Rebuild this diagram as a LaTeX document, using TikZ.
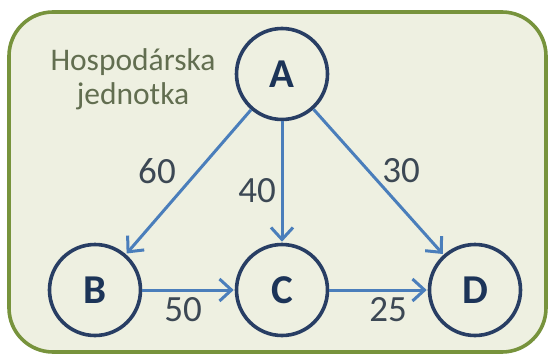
\documentclass[tikz,border=0pt]{standalone}
\usepackage{fontspec}
\setmainfont{Carlito}
\usetikzlibrary{arrows.meta}
\definecolor{frameline}{RGB}{119,147,60}
\definecolor{framefill}{RGB}{238,240,225}
\definecolor{circline}{RGB}{40,62,100}
\definecolor{arrowblue}{RGB}{74,126,187}
\definecolor{lettercol}{RGB}{28,52,88}
\definecolor{numcol}{RGB}{60,72,84}
\definecolor{titlecol}{RGB}{98,110,80}
\tikzset{
  vertex/.style={circle, draw=circline, line width=3.6pt, minimum size=91pt, inner sep=0pt,
    font=\fontsize{41}{41}\selectfont\bfseries, text=lettercol},
  flow/.style={draw=arrowblue, line width=3pt, -{Straight Barb[length=12pt,width=22pt,line width=3pt]}, shorten >=1pt},
  weight/.style={font=\fontsize{37}{37}\selectfont, text=numcol, inner sep=0pt},
}
\begin{document}
\begin{tikzpicture}[x=1pt,y=-1pt]
\useasboundingbox (0,0) rectangle (551,356);
\draw[frameline, fill=framefill, line width=3.6pt, rounded corners=44pt] (9,12) rectangle (546,352);
\node[align=center, text=titlecol, font=\fontsize{31.5}{34}\selectfont] (title) at (133,79) {Hospodárska\\jednotka};
\node[vertex] (A) at (282,74) {A};
\node[vertex] (B) at (95,290) {B};
\node[vertex] (C) at (282,290) {C};
\node[vertex] (D) at (475,290) {D};
\draw[flow] (A) -- (B);
\draw[flow] (A) -- (C);
\draw[flow] (A) -- (D);
\draw[flow] (B) -- (C);
\draw[flow] (C) -- (D);
\node[weight] (w60) at (157,171) {60};
\node[weight] (w40) at (257,191) {40};
\node[weight] (w30) at (401,171) {30};
\node[weight] (w50) at (183,310) {50};
\node[weight] (w25) at (388,310) {25};
\end{tikzpicture}
\end{document}
